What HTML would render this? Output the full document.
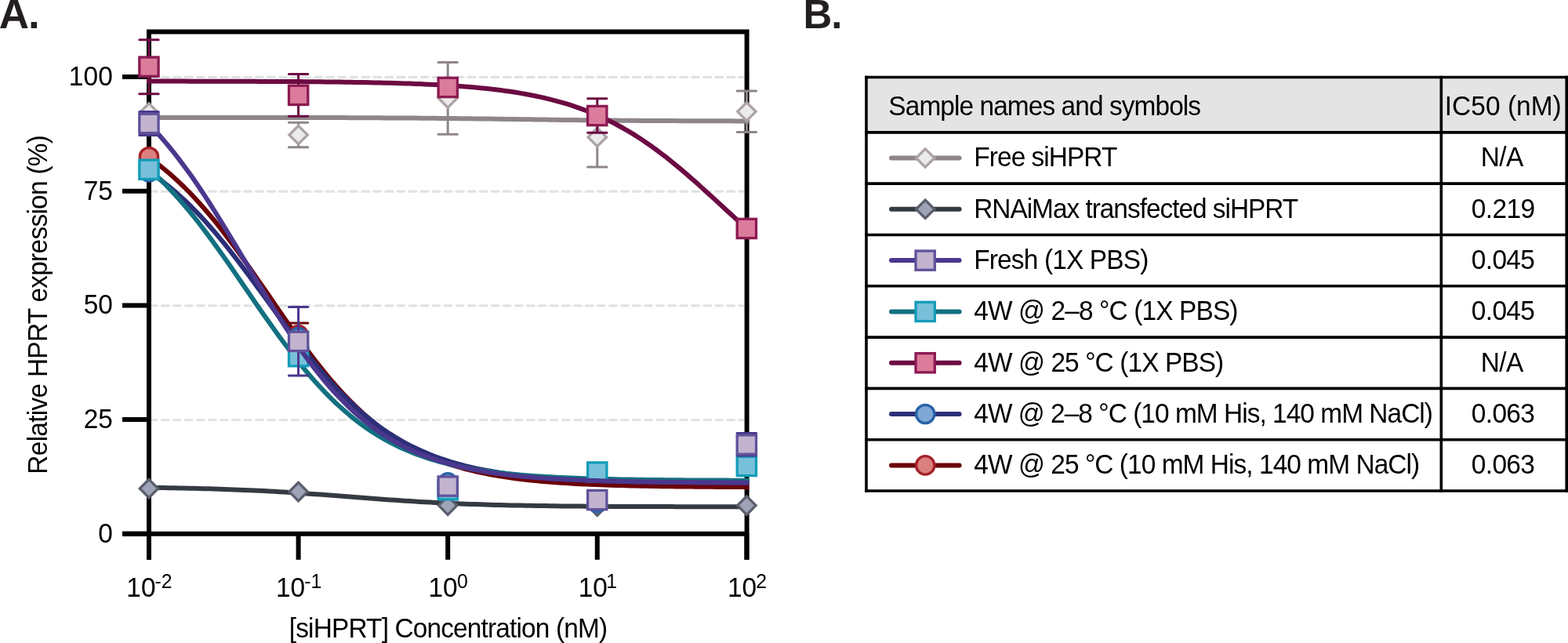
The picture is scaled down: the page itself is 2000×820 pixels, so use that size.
<!DOCTYPE html>
<html><head><meta charset="utf-8"><style>
html,body{margin:0;padding:0;background:#fff;width:2000px;height:820px;overflow:hidden}
svg{display:block}
</style></head><body>
<svg width="2000" height="820" viewBox="0 0 2000 820">
<line x1="191.4" y1="535.48" x2="948" y2="535.48" stroke="#e2e2e2" stroke-width="3.2" stroke-linecap="round" stroke-dasharray="8.8 6.23"/>
<line x1="191.4" y1="389.80" x2="948" y2="389.80" stroke="#e2e2e2" stroke-width="3.2" stroke-linecap="round" stroke-dasharray="8.8 6.23"/>
<line x1="191.4" y1="244.13" x2="948" y2="244.13" stroke="#e2e2e2" stroke-width="3.2" stroke-linecap="round" stroke-dasharray="8.8 6.23"/>
<line x1="191.4" y1="98.45" x2="948" y2="98.45" stroke="#e2e2e2" stroke-width="3.2" stroke-linecap="round" stroke-dasharray="8.8 6.23"/>
<path d="M190 37.5V713.8M952.6 37.5V713.8M187 40.5H955.6M156 680.7H955.6" stroke="#000" stroke-width="6" fill="none"/>
<line x1="156" y1="680.7" x2="190" y2="680.7" stroke="#000" stroke-width="6"/>
<line x1="156" y1="535.0" x2="190" y2="535.0" stroke="#000" stroke-width="6"/>
<line x1="156" y1="389.4" x2="190" y2="389.4" stroke="#000" stroke-width="6"/>
<line x1="156" y1="243.7" x2="190" y2="243.7" stroke="#000" stroke-width="6"/>
<line x1="156" y1="98.0" x2="190" y2="98.0" stroke="#000" stroke-width="6"/>
<line x1="190.0" y1="680" x2="190.0" y2="713.8" stroke="#000" stroke-width="6"/>
<line x1="380.6" y1="680" x2="380.6" y2="713.8" stroke="#000" stroke-width="6"/>
<line x1="571.2" y1="680" x2="571.2" y2="713.8" stroke="#000" stroke-width="6"/>
<line x1="761.8" y1="680" x2="761.8" y2="713.8" stroke="#000" stroke-width="6"/>
<line x1="952.4" y1="680" x2="952.4" y2="713.8" stroke="#000" stroke-width="6"/>
<polyline points="190.0,149.9 196.4,149.9 202.8,149.9 209.2,149.9 215.6,149.9 222.0,149.9 228.4,149.9 234.8,149.9 241.3,149.9 247.7,149.9 254.1,149.9 260.5,149.9 266.9,149.9 273.3,149.9 279.7,149.9 286.1,149.9 292.5,149.9 298.9,149.9 305.3,149.9 311.7,149.9 318.1,149.9 324.5,149.9 330.9,149.9 337.4,149.9 343.8,150.0 350.2,150.0 356.6,150.0 363.0,150.0 369.4,150.0 375.8,150.0 382.2,150.0 388.6,150.0 395.0,150.0 401.4,150.0 407.8,150.1 414.2,150.1 420.6,150.1 427.0,150.1 433.5,150.1 439.9,150.1 446.3,150.2 452.7,150.2 459.1,150.2 465.5,150.2 471.9,150.3 478.3,150.3 484.7,150.3 491.1,150.4 497.5,150.4 503.9,150.4 510.3,150.5 516.7,150.5 523.1,150.6 529.6,150.6 536.0,150.7 542.4,150.7 548.8,150.8 555.2,150.8 561.6,150.9 568.0,150.9 574.4,151.0 580.8,151.1 587.2,151.2 593.6,151.2 600.0,151.3 606.4,151.4 612.8,151.5 619.3,151.5 625.7,151.6 632.1,151.7 638.5,151.8 644.9,151.9 651.3,152.0 657.7,152.1 664.1,152.2 670.5,152.2 676.9,152.3 683.3,152.4 689.7,152.5 696.1,152.6 702.5,152.7 708.9,152.8 715.4,152.9 721.8,152.9 728.2,153.0 734.6,153.1 741.0,153.2 747.4,153.2 753.8,153.3 760.2,153.4 766.6,153.5 773.0,153.5 779.4,153.6 785.8,153.6 792.2,153.7 798.6,153.7 805.0,153.8 811.5,153.8 817.9,153.9 824.3,153.9 830.7,154.0 837.1,154.0 843.5,154.0 849.9,154.1 856.3,154.1 862.7,154.1 869.1,154.2 875.5,154.2 881.9,154.2 888.3,154.2 894.7,154.2 901.1,154.3 907.6,154.3 914.0,154.3 920.4,154.3 926.8,154.3 933.2,154.3 939.6,154.4 946.0,154.4 952.4,154.4" fill="none" stroke="#8e868b" stroke-width="6" stroke-linejoin="round" stroke-linecap="square"/>
<path d="M190.0 131.8L201.7 143.5L190.0 155.2L178.3 143.5Z" fill="#ebebeb" stroke="#aca3a7" stroke-width="3.3"/>
<path d="M380.6 156.3V187.8M368.4 156.3H392.8M368.4 187.8H392.8" stroke="#8e868b" stroke-width="3" stroke-linecap="round" fill="none"/>
<path d="M380.6 160.3L392.3 172.0L380.6 183.7L368.9 172.0Z" fill="#ebebeb" stroke="#aca3a7" stroke-width="3.3"/>
<path d="M571.2 79.5V171.3M559.0 79.5H583.4M559.0 171.3H583.4" stroke="#8e868b" stroke-width="3" stroke-linecap="round" fill="none"/>
<path d="M571.2 113.7L582.9 125.4L571.2 137.1L559.5 125.4Z" fill="#ebebeb" stroke="#aca3a7" stroke-width="3.3"/>
<path d="M761.8 136.9V212.9M749.6 136.9H774.0M749.6 212.9H774.0" stroke="#8e868b" stroke-width="3" stroke-linecap="round" fill="none"/>
<path d="M761.8 163.2L773.5 174.9L761.8 186.6L750.1 174.9Z" fill="#ebebeb" stroke="#aca3a7" stroke-width="3.3"/>
<path d="M952.4 115.9V168.6M940.2 115.9H964.6M940.2 168.6H964.6" stroke="#8e868b" stroke-width="3" stroke-linecap="round" fill="none"/>
<path d="M952.4 130.6L964.1 142.3L952.4 154.0L940.7 142.3Z" fill="#ebebeb" stroke="#aca3a7" stroke-width="3.3"/>
<polyline points="190.0,621.8 196.4,621.9 202.8,622.0 209.2,622.1 215.6,622.2 222.0,622.3 228.4,622.4 234.8,622.5 241.3,622.7 247.7,622.8 254.1,623.0 260.5,623.2 266.9,623.3 273.3,623.5 279.7,623.7 286.1,623.9 292.5,624.2 298.9,624.4 305.3,624.7 311.7,624.9 318.1,625.2 324.5,625.5 330.9,625.8 337.4,626.1 343.8,626.5 350.2,626.8 356.6,627.2 363.0,627.6 369.4,628.0 375.8,628.4 382.2,628.8 388.6,629.3 395.0,629.7 401.4,630.2 407.8,630.6 414.2,631.1 420.6,631.6 427.0,632.1 433.5,632.6 439.9,633.1 446.3,633.6 452.7,634.1 459.1,634.6 465.5,635.0 471.9,635.5 478.3,636.0 484.7,636.5 491.1,636.9 497.5,637.4 503.9,637.8 510.3,638.3 516.7,638.7 523.1,639.1 529.6,639.5 536.0,639.9 542.4,640.2 548.8,640.6 555.2,640.9 561.6,641.3 568.0,641.6 574.4,641.9 580.8,642.1 587.2,642.4 593.6,642.7 600.0,642.9 606.4,643.1 612.8,643.3 619.3,643.5 625.7,643.7 632.1,643.9 638.5,644.1 644.9,644.2 651.3,644.4 657.7,644.5 664.1,644.6 670.5,644.7 676.9,644.8 683.3,644.9 689.7,645.0 696.1,645.1 702.5,645.2 708.9,645.3 715.4,645.4 721.8,645.4 728.2,645.5 734.6,645.6 741.0,645.6 747.4,645.7 753.8,645.7 760.2,645.8 766.6,645.8 773.0,645.8 779.4,645.9 785.8,645.9 792.2,645.9 798.6,646.0 805.0,646.0 811.5,646.0 817.9,646.0 824.3,646.1 830.7,646.1 837.1,646.1 843.5,646.1 849.9,646.1 856.3,646.1 862.7,646.2 869.1,646.2 875.5,646.2 881.9,646.2 888.3,646.2 894.7,646.2 901.1,646.2 907.6,646.2 914.0,646.2 920.4,646.2 926.8,646.2 933.2,646.3 939.6,646.3 946.0,646.3 952.4,646.3" fill="none" stroke="#353a42" stroke-width="6" stroke-linejoin="round" stroke-linecap="square"/>
<path d="M190.0 611.3L201.7 623.0L190.0 634.7L178.3 623.0Z" fill="#9ea3b8" stroke="#5b5e6b" stroke-width="3.3"/>
<path d="M380.6 615.4L392.3 627.1L380.6 638.8L368.9 627.1Z" fill="#9ea3b8" stroke="#5b5e6b" stroke-width="3.3"/>
<path d="M571.2 632.9L582.9 644.6L571.2 656.3L559.5 644.6Z" fill="#9ea3b8" stroke="#5b5e6b" stroke-width="3.3"/>
<path d="M761.8 634.0L773.5 645.7L761.8 657.4L750.1 645.7Z" fill="#9ea3b8" stroke="#5b5e6b" stroke-width="3.3"/>
<path d="M952.4 632.9L964.1 644.6L952.4 656.3L940.7 644.6Z" fill="#9ea3b8" stroke="#5b5e6b" stroke-width="3.3"/>
<polyline points="190.0,201.0 196.4,205.6 202.8,210.4 209.2,215.5 215.6,220.8 222.0,226.5 228.4,232.4 234.8,238.5 241.3,245.0 247.7,251.7 254.1,258.7 260.5,266.0 266.9,273.5 273.3,281.2 279.7,289.2 286.1,297.5 292.5,305.9 298.9,314.5 305.3,323.3 311.7,332.2 318.1,341.3 324.5,350.5 330.9,359.7 337.4,369.0 343.8,378.3 350.2,387.6 356.6,396.9 363.0,406.2 369.4,415.3 375.8,424.3 382.2,433.3 388.6,442.0 395.0,450.6 401.4,459.0 407.8,467.1 414.2,475.1 420.6,482.8 427.0,490.2 433.5,497.4 439.9,504.4 446.3,511.0 452.7,517.4 459.1,523.5 465.5,529.4 471.9,534.9 478.3,540.2 484.7,545.3 491.1,550.1 497.5,554.6 503.9,558.9 510.3,562.9 516.7,566.7 523.1,570.3 529.6,573.7 536.0,576.9 542.4,579.9 548.8,582.7 555.2,585.4 561.6,587.8 568.0,590.1 574.4,592.3 580.8,594.3 587.2,596.2 593.6,598.0 600.0,599.6 606.4,601.2 612.8,602.6 619.3,603.9 625.7,605.2 632.1,606.3 638.5,607.4 644.9,608.4 651.3,609.3 657.7,610.2 664.1,611.0 670.5,611.8 676.9,612.5 683.3,613.1 689.7,613.7 696.1,614.3 702.5,614.8 708.9,615.3 715.4,615.7 721.8,616.1 728.2,616.5 734.6,616.9 741.0,617.2 747.4,617.5 753.8,617.8 760.2,618.0 766.6,618.3 773.0,618.5 779.4,618.7 785.8,618.9 792.2,619.1 798.6,619.3 805.0,619.4 811.5,619.6 817.9,619.7 824.3,619.8 830.7,619.9 837.1,620.1 843.5,620.2 849.9,620.2 856.3,620.3 862.7,620.4 869.1,620.5 875.5,620.5 881.9,620.6 888.3,620.7 894.7,620.7 901.1,620.8 907.6,620.8 914.0,620.9 920.4,620.9 926.8,620.9 933.2,621.0 939.6,621.0 946.0,621.0 952.4,621.1" fill="none" stroke="#6b0308" stroke-width="6" stroke-linejoin="round" stroke-linecap="square"/>
<circle cx="190.0" cy="200.0" r="11.7" fill="#dc7f7f" stroke="#a52028" stroke-width="3.3"/>
<path d="M380.6 412.1V442.3M368.4 412.1H392.8M368.4 442.3H392.8" stroke="#6a0a0c" stroke-width="3" stroke-linecap="round" fill="none"/>
<circle cx="380.6" cy="427.2" r="11.7" fill="#dc7f7f" stroke="#a52028" stroke-width="3.3"/>
<circle cx="571.2" cy="620.1" r="11.7" fill="#dc7f7f" stroke="#a52028" stroke-width="3.3"/>
<circle cx="761.8" cy="637.6" r="11.7" fill="#dc7f7f" stroke="#a52028" stroke-width="3.3"/>
<circle cx="952.4" cy="581.6" r="11.7" fill="#dc7f7f" stroke="#a52028" stroke-width="3.3"/>
<polyline points="190.0,218.9 196.4,223.3 202.8,227.9 209.2,232.8 215.6,237.9 222.0,243.2 228.4,248.9 234.8,254.7 241.3,260.9 247.7,267.3 254.1,273.9 260.5,280.8 266.9,288.0 273.3,295.3 279.7,302.9 286.1,310.7 292.5,318.7 298.9,326.9 305.3,335.2 311.7,343.7 318.1,352.3 324.5,361.0 330.9,369.7 337.4,378.5 343.8,387.3 350.2,396.2 356.6,404.9 363.0,413.6 369.4,422.3 375.8,430.8 382.2,439.2 388.6,447.5 395.0,455.5 401.4,463.4 407.8,471.1 414.2,478.6 420.6,485.9 427.0,492.9 433.5,499.7 439.9,506.2 446.3,512.5 452.7,518.5 459.1,524.2 465.5,529.7 471.9,534.9 478.3,539.9 484.7,544.6 491.1,549.1 497.5,553.4 503.9,557.4 510.3,561.2 516.7,564.8 523.1,568.2 529.6,571.3 536.0,574.3 542.4,577.1 548.8,579.8 555.2,582.3 561.6,584.6 568.0,586.7 574.4,588.8 580.8,590.7 587.2,592.4 593.6,594.1 600.0,595.6 606.4,597.1 612.8,598.4 619.3,599.7 625.7,600.8 632.1,601.9 638.5,602.9 644.9,603.9 651.3,604.7 657.7,605.6 664.1,606.3 670.5,607.0 676.9,607.7 683.3,608.3 689.7,608.8 696.1,609.4 702.5,609.9 708.9,610.3 715.4,610.7 721.8,611.1 728.2,611.5 734.6,611.8 741.0,612.1 747.4,612.4 753.8,612.7 760.2,612.9 766.6,613.2 773.0,613.4 779.4,613.6 785.8,613.8 792.2,613.9 798.6,614.1 805.0,614.2 811.5,614.4 817.9,614.5 824.3,614.6 830.7,614.7 837.1,614.8 843.5,614.9 849.9,615.0 856.3,615.1 862.7,615.1 869.1,615.2 875.5,615.3 881.9,615.3 888.3,615.4 894.7,615.4 901.1,615.5 907.6,615.5 914.0,615.6 920.4,615.6 926.8,615.6 933.2,615.7 939.6,615.7 946.0,615.7 952.4,615.8" fill="none" stroke="#2c2f78" stroke-width="6" stroke-linejoin="round" stroke-linecap="square"/>
<circle cx="190.0" cy="219.2" r="11.7" fill="#7ea7d6" stroke="#2a62a6" stroke-width="3.3"/>
<circle cx="380.6" cy="430.1" r="11.7" fill="#7ea7d6" stroke="#2a62a6" stroke-width="3.3"/>
<circle cx="571.2" cy="615.4" r="11.7" fill="#7ea7d6" stroke="#2a62a6" stroke-width="3.3"/>
<circle cx="761.8" cy="641.1" r="11.7" fill="#7ea7d6" stroke="#2a62a6" stroke-width="3.3"/>
<path d="M952.4 552.6V580.4M940.2 552.6H964.6M940.2 580.4H964.6" stroke="#2c2f78" stroke-width="3" stroke-linecap="round" fill="none"/>
<circle cx="952.4" cy="566.5" r="11.7" fill="#7ea7d6" stroke="#2a62a6" stroke-width="3.3"/>
<polyline points="190.0,103.6 196.4,103.6 202.8,103.6 209.2,103.6 215.6,103.6 222.0,103.6 228.4,103.6 234.8,103.6 241.3,103.7 247.7,103.7 254.1,103.7 260.5,103.7 266.9,103.7 273.3,103.7 279.7,103.7 286.1,103.7 292.5,103.7 298.9,103.8 305.3,103.8 311.7,103.8 318.1,103.8 324.5,103.8 330.9,103.9 337.4,103.9 343.8,103.9 350.2,104.0 356.6,104.0 363.0,104.0 369.4,104.1 375.8,104.1 382.2,104.1 388.6,104.2 395.0,104.2 401.4,104.3 407.8,104.3 414.2,104.4 420.6,104.5 427.0,104.6 433.5,104.6 439.9,104.7 446.3,104.8 452.7,104.9 459.1,105.0 465.5,105.1 471.9,105.2 478.3,105.4 484.7,105.5 491.1,105.7 497.5,105.8 503.9,106.0 510.3,106.2 516.7,106.4 523.1,106.6 529.6,106.9 536.0,107.1 542.4,107.4 548.8,107.7 555.2,108.0 561.6,108.3 568.0,108.7 574.4,109.1 580.8,109.5 587.2,110.0 593.6,110.5 600.0,111.0 606.4,111.6 612.8,112.2 619.3,112.8 625.7,113.5 632.1,114.3 638.5,115.1 644.9,115.9 651.3,116.8 657.7,117.8 664.1,118.9 670.5,120.0 676.9,121.2 683.3,122.5 689.7,123.9 696.1,125.3 702.5,126.9 708.9,128.6 715.4,130.3 721.8,132.2 728.2,134.2 734.6,136.4 741.0,138.6 747.4,141.0 753.8,143.6 760.2,146.2 766.6,149.1 773.0,152.1 779.4,155.2 785.8,158.5 792.2,162.0 798.6,165.6 805.0,169.4 811.5,173.4 817.9,177.6 824.3,181.9 830.7,186.3 837.1,191.0 843.5,195.8 849.9,200.7 856.3,205.8 862.7,211.1 869.1,216.4 875.5,221.9 881.9,227.5 888.3,233.1 894.7,238.9 901.1,244.7 907.6,250.5 914.0,256.4 920.4,262.3 926.8,268.2 933.2,274.0 939.6,279.9 946.0,285.7 952.4,291.4" fill="none" stroke="#6c0b43" stroke-width="6" stroke-linejoin="round" stroke-linecap="square"/>
<path d="M190.0 50.7V119.7M177.8 50.7H202.2M177.8 119.7H202.2" stroke="#6c0b43" stroke-width="3" stroke-linecap="round" fill="none"/>
<rect x="177.8" y="73.0" width="24.3" height="24.3" fill="#db7c9d" stroke="#8c1a52" stroke-width="3.3"/>
<path d="M380.6 94.4V148.2M368.4 94.4H392.8M368.4 148.2H392.8" stroke="#6c0b43" stroke-width="3" stroke-linecap="round" fill="none"/>
<rect x="368.5" y="109.2" width="24.3" height="24.3" fill="#db7c9d" stroke="#8c1a52" stroke-width="3.3"/>
<rect x="559.1" y="99.3" width="24.3" height="24.3" fill="#db7c9d" stroke="#8c1a52" stroke-width="3.3"/>
<path d="M761.8 125.8V169.3M749.6 125.8H774.0M749.6 169.3H774.0" stroke="#6c0b43" stroke-width="3" stroke-linecap="round" fill="none"/>
<rect x="749.6" y="135.4" width="24.3" height="24.3" fill="#db7c9d" stroke="#8c1a52" stroke-width="3.3"/>
<rect x="940.2" y="279.3" width="24.3" height="24.3" fill="#db7c9d" stroke="#8c1a52" stroke-width="3.3"/>
<polyline points="190.0,215.5 196.4,221.2 202.8,227.2 209.2,233.5 215.6,240.1 222.0,246.9 228.4,254.0 234.8,261.4 241.3,269.1 247.7,276.9 254.1,285.0 260.5,293.4 266.9,301.9 273.3,310.6 279.7,319.5 286.1,328.5 292.5,337.6 298.9,346.9 305.3,356.2 311.7,365.5 318.1,374.8 324.5,384.2 330.9,393.5 337.4,402.7 343.8,411.8 350.2,420.8 356.6,429.7 363.0,438.3 369.4,446.8 375.8,455.1 382.2,463.2 388.6,471.1 395.0,478.7 401.4,486.0 407.8,493.1 414.2,499.9 420.6,506.4 427.0,512.7 433.5,518.6 439.9,524.3 446.3,529.8 452.7,534.9 459.1,539.8 465.5,544.5 471.9,548.9 478.3,553.0 484.7,556.9 491.1,560.6 497.5,564.1 503.9,567.4 510.3,570.5 516.7,573.3 523.1,576.0 529.6,578.6 536.0,581.0 542.4,583.2 548.8,585.3 555.2,587.2 561.6,589.0 568.0,590.7 574.4,592.3 580.8,593.7 587.2,595.1 593.6,596.4 600.0,597.6 606.4,598.7 612.8,599.7 619.3,600.7 625.7,601.5 632.1,602.4 638.5,603.1 644.9,603.8 651.3,604.5 657.7,605.1 664.1,605.7 670.5,606.2 676.9,606.7 683.3,607.2 689.7,607.6 696.1,608.0 702.5,608.3 708.9,608.7 715.4,609.0 721.8,609.3 728.2,609.6 734.6,609.8 741.0,610.0 747.4,610.3 753.8,610.5 760.2,610.6 766.6,610.8 773.0,611.0 779.4,611.1 785.8,611.2 792.2,611.4 798.6,611.5 805.0,611.6 811.5,611.7 817.9,611.8 824.3,611.9 830.7,612.0 837.1,612.0 843.5,612.1 849.9,612.2 856.3,612.2 862.7,612.3 869.1,612.3 875.5,612.4 881.9,612.4 888.3,612.5 894.7,612.5 901.1,612.5 907.6,612.6 914.0,612.6 920.4,612.6 926.8,612.6 933.2,612.7 939.6,612.7 946.0,612.7 952.4,612.7" fill="none" stroke="#137080" stroke-width="6" stroke-linejoin="round" stroke-linecap="square"/>
<rect x="177.8" y="204.1" width="24.3" height="24.3" fill="#78c0da" stroke="#139cb8" stroke-width="3.3"/>
<rect x="368.5" y="442.5" width="24.3" height="24.3" fill="#78c0da" stroke="#139cb8" stroke-width="3.3"/>
<rect x="559.1" y="612.6" width="24.3" height="24.3" fill="#78c0da" stroke="#139cb8" stroke-width="3.3"/>
<rect x="749.6" y="589.9" width="24.3" height="24.3" fill="#78c0da" stroke="#139cb8" stroke-width="3.3"/>
<rect x="940.2" y="582.3" width="24.3" height="24.3" fill="#78c0da" stroke="#139cb8" stroke-width="3.3"/>
<polyline points="190.0,158.4 196.4,165.1 202.8,172.0 209.2,179.4 215.6,187.0 222.0,194.9 228.4,203.1 234.8,211.7 241.3,220.5 247.7,229.6 254.1,239.0 260.5,248.6 266.9,258.5 273.3,268.5 279.7,278.8 286.1,289.2 292.5,299.7 298.9,310.3 305.3,321.0 311.7,331.8 318.1,342.5 324.5,353.3 330.9,363.9 337.4,374.5 343.8,385.0 350.2,395.3 356.6,405.5 363.0,415.5 369.4,425.2 375.8,434.7 382.2,444.0 388.6,453.0 395.0,461.7 401.4,470.1 407.8,478.2 414.2,486.0 420.6,493.5 427.0,500.7 433.5,507.5 439.9,514.0 446.3,520.3 452.7,526.2 459.1,531.8 465.5,537.1 471.9,542.1 478.3,546.9 484.7,551.4 491.1,555.6 497.5,559.6 503.9,563.4 510.3,566.9 516.7,570.2 523.1,573.3 529.6,576.2 536.0,578.9 542.4,581.5 548.8,583.8 555.2,586.1 561.6,588.2 568.0,590.1 574.4,591.9 580.8,593.6 587.2,595.2 593.6,596.6 600.0,598.0 606.4,599.3 612.8,600.4 619.3,601.5 625.7,602.6 632.1,603.5 638.5,604.4 644.9,605.2 651.3,606.0 657.7,606.7 664.1,607.3 670.5,607.9 676.9,608.5 683.3,609.0 689.7,609.5 696.1,610.0 702.5,610.4 708.9,610.8 715.4,611.1 721.8,611.5 728.2,611.8 734.6,612.1 741.0,612.3 747.4,612.6 753.8,612.8 760.2,613.0 766.6,613.2 773.0,613.4 779.4,613.6 785.8,613.7 792.2,613.9 798.6,614.0 805.0,614.2 811.5,614.3 817.9,614.4 824.3,614.5 830.7,614.6 837.1,614.7 843.5,614.7 849.9,614.8 856.3,614.9 862.7,614.9 869.1,615.0 875.5,615.0 881.9,615.1 888.3,615.1 894.7,615.2 901.1,615.2 907.6,615.3 914.0,615.3 920.4,615.3 926.8,615.4 933.2,615.4 939.6,615.4 946.0,615.4 952.4,615.5" fill="none" stroke="#4b378d" stroke-width="6" stroke-linejoin="round" stroke-linecap="square"/>
<path d="M190.0 142.4V172.4M177.8 142.4H202.2M177.8 172.4H202.2" stroke="#4b378d" stroke-width="3" stroke-linecap="round" fill="none"/>
<rect x="177.8" y="145.3" width="24.3" height="24.3" fill="#c2b4cf" stroke="#5f529a" stroke-width="3.3"/>
<path d="M380.6 391.6V479.1M368.4 391.6H392.8M368.4 479.1H392.8" stroke="#4b378d" stroke-width="3" stroke-linecap="round" fill="none"/>
<rect x="368.5" y="423.2" width="24.3" height="24.3" fill="#c2b4cf" stroke="#5f529a" stroke-width="3.3"/>
<rect x="559.1" y="607.9" width="24.3" height="24.3" fill="#c2b4cf" stroke="#5f529a" stroke-width="3.3"/>
<rect x="749.6" y="625.4" width="24.3" height="24.3" fill="#c2b4cf" stroke="#5f529a" stroke-width="3.3"/>
<path d="M952.4 553.1V581.1M940.2 553.1H964.6M940.2 581.1H964.6" stroke="#4b378d" stroke-width="3" stroke-linecap="round" fill="none"/>
<rect x="940.2" y="554.9" width="24.3" height="24.3" fill="#c2b4cf" stroke="#5f529a" stroke-width="3.3"/>
<text transform="translate(125.31,691.70) scale(0.955,1)" font-size="35" letter-spacing="0.000" font-family="Liberation Sans, Arial, Helvetica, sans-serif" >0</text>
<text transform="translate(106.69,546.03) scale(0.955,1)" font-size="35" letter-spacing="0.000" font-family="Liberation Sans, Arial, Helvetica, sans-serif" >25</text>
<text transform="translate(106.69,400.35) scale(0.955,1)" font-size="35" letter-spacing="0.000" font-family="Liberation Sans, Arial, Helvetica, sans-serif" >50</text>
<text transform="translate(106.69,254.68) scale(0.955,1)" font-size="35" letter-spacing="0.000" font-family="Liberation Sans, Arial, Helvetica, sans-serif" >75</text>
<text transform="translate(87.87,109.00) scale(0.955,1)" font-size="35" letter-spacing="0.100" font-family="Liberation Sans, Arial, Helvetica, sans-serif" >100</text>
<text transform="translate(161.37,760.70) scale(0.955,1)" font-size="35" letter-spacing="0.000" font-family="Liberation Sans, Arial, Helvetica, sans-serif" >10</text>
<text transform="translate(197.59,749.90) scale(0.955,1)" font-size="26" letter-spacing="-0.000" font-family="Liberation Sans, Arial, Helvetica, sans-serif" >-2</text>
<text transform="translate(351.97,760.70) scale(0.955,1)" font-size="35" letter-spacing="0.000" font-family="Liberation Sans, Arial, Helvetica, sans-serif" >10</text>
<text transform="translate(388.19,749.90) scale(0.955,1)" font-size="26" letter-spacing="-0.000" font-family="Liberation Sans, Arial, Helvetica, sans-serif" >-1</text>
<text transform="translate(546.51,760.70) scale(0.955,1)" font-size="35" letter-spacing="-0.000" font-family="Liberation Sans, Arial, Helvetica, sans-serif" >10</text>
<text transform="translate(582.97,749.90) scale(0.955,1)" font-size="26" letter-spacing="0.000" font-family="Liberation Sans, Arial, Helvetica, sans-serif" >0</text>
<text transform="translate(737.71,760.70) scale(0.955,1)" font-size="35" letter-spacing="-0.000" font-family="Liberation Sans, Arial, Helvetica, sans-serif" >10</text>
<text transform="translate(773.21,749.90) scale(0.955,1)" font-size="26" letter-spacing="0.000" font-family="Liberation Sans, Arial, Helvetica, sans-serif" >1</text>
<text transform="translate(927.95,760.70) scale(0.955,1)" font-size="35" letter-spacing="-0.000" font-family="Liberation Sans, Arial, Helvetica, sans-serif" >10</text>
<text transform="translate(964.17,749.90) scale(0.955,1)" font-size="26" letter-spacing="0.000" font-family="Liberation Sans, Arial, Helvetica, sans-serif" >2</text>
<text transform="translate(368.81,813.00) scale(0.955,1)" font-size="35" letter-spacing="-0.895" font-family="Liberation Sans, Arial, Helvetica, sans-serif" >[siHPRT] Concentration (nM)</text>
<text transform="translate(60.00,604.63) rotate(-90) scale(0.955,1)" font-size="35" letter-spacing="-0.753" font-family="Liberation Sans, Arial, Helvetica, sans-serif" >Relative HPRT expression (%)</text>
<text x="-1.3" y="35.7" font-size="53" letter-spacing="-1.1" font-weight="bold" fill="#231f20" font-family="Liberation Sans, Arial, Helvetica, sans-serif">A.</text>
<text x="1024.5" y="35.7" font-size="51" letter-spacing="-1.2" font-weight="bold" fill="#231f20" font-family="Liberation Sans, Arial, Helvetica, sans-serif">B.</text>
<rect x="1105" y="98.5" width="893.2" height="70.4" fill="#e4e4e4"/>
<line x1="1103.2" y1="98.5" x2="2000.0" y2="98.5" stroke="#000" stroke-width="3.6"/>
<line x1="1103.2" y1="168.9" x2="2000.0" y2="168.9" stroke="#000" stroke-width="3.6"/>
<line x1="1103.2" y1="234.1" x2="2000.0" y2="234.1" stroke="#000" stroke-width="3.6"/>
<line x1="1103.2" y1="299.5" x2="2000.0" y2="299.5" stroke="#000" stroke-width="3.6"/>
<line x1="1103.2" y1="364.8" x2="2000.0" y2="364.8" stroke="#000" stroke-width="3.6"/>
<line x1="1103.2" y1="430.1" x2="2000.0" y2="430.1" stroke="#000" stroke-width="3.6"/>
<line x1="1103.2" y1="495.4" x2="2000.0" y2="495.4" stroke="#000" stroke-width="3.6"/>
<line x1="1103.2" y1="560.7" x2="2000.0" y2="560.7" stroke="#000" stroke-width="3.6"/>
<line x1="1103.2" y1="626" x2="2000.0" y2="626" stroke="#000" stroke-width="3.6"/>
<line x1="1105" y1="96.7" x2="1105" y2="627.8" stroke="#000" stroke-width="3.6"/>
<line x1="1838.3" y1="96.7" x2="1838.3" y2="627.8" stroke="#000" stroke-width="3.6"/>
<line x1="1998.2" y1="96.7" x2="1998.2" y2="627.8" stroke="#000" stroke-width="3.6"/>
<text transform="translate(1133.33,146.80) scale(0.955,1)" font-size="35" letter-spacing="-0.960" font-family="Liberation Sans, Arial, Helvetica, sans-serif" >Sample names and symbols</text>
<text transform="translate(1842.80,147.00) scale(0.955,1)" font-size="35" letter-spacing="0.041" font-family="Liberation Sans, Arial, Helvetica, sans-serif" >IC50 (nM)</text>
<line x1="1137" y1="201.5" x2="1223.6" y2="201.5" stroke="#8e868b" stroke-width="6" stroke-linecap="round"/>
<path d="M1180.2 189.8L1191.9 201.5L1180.2 213.2L1168.5 201.5Z" fill="#ebebeb" stroke="#aca3a7" stroke-width="3.3"/>
<text transform="translate(1242.37,212.30) scale(0.955,1)" font-size="35" letter-spacing="-1.004" font-family="Liberation Sans, Arial, Helvetica, sans-serif" >Free siHPRT</text>
<text transform="translate(1888.67,212.30) scale(0.955,1)" font-size="35" letter-spacing="-0.630" font-family="Liberation Sans, Arial, Helvetica, sans-serif" >N/A</text>
<line x1="1137" y1="266.8" x2="1223.6" y2="266.8" stroke="#353a42" stroke-width="6" stroke-linecap="round"/>
<path d="M1180.2 255.1L1191.9 266.8L1180.2 278.5L1168.5 266.8Z" fill="#9ea3b8" stroke="#5b5e6b" stroke-width="3.3"/>
<text transform="translate(1242.17,277.60) scale(0.955,1)" font-size="35" letter-spacing="-1.068" font-family="Liberation Sans, Arial, Helvetica, sans-serif" >RNAiMax transfected siHPRT</text>
<text transform="translate(1876.86,277.60) scale(0.955,1)" font-size="35" letter-spacing="-0.628" font-family="Liberation Sans, Arial, Helvetica, sans-serif" >0.219</text>
<line x1="1137" y1="332.1" x2="1223.6" y2="332.1" stroke="#4b378d" stroke-width="6" stroke-linecap="round"/>
<rect x="1168.0" y="320.0" width="24.3" height="24.3" fill="#c2b4cf" stroke="#5f529a" stroke-width="3.3"/>
<text transform="translate(1242.17,342.95) scale(0.955,1)" font-size="35" letter-spacing="-0.873" font-family="Liberation Sans, Arial, Helvetica, sans-serif" >Fresh (1X PBS)</text>
<text transform="translate(1876.86,342.95) scale(0.955,1)" font-size="35" letter-spacing="-0.690" font-family="Liberation Sans, Arial, Helvetica, sans-serif" >0.045</text>
<line x1="1137" y1="397.5" x2="1223.6" y2="397.5" stroke="#137080" stroke-width="6" stroke-linecap="round"/>
<rect x="1168.0" y="385.3" width="24.3" height="24.3" fill="#78c0da" stroke="#139cb8" stroke-width="3.3"/>
<text transform="translate(1242.28,408.25) scale(0.955,1)" font-size="35" letter-spacing="-0.913" font-family="Liberation Sans, Arial, Helvetica, sans-serif" >4W @ 2–8 °C (1X PBS)</text>
<text transform="translate(1876.86,408.25) scale(0.955,1)" font-size="35" letter-spacing="-0.690" font-family="Liberation Sans, Arial, Helvetica, sans-serif" >0.045</text>
<line x1="1137" y1="462.8" x2="1223.6" y2="462.8" stroke="#6c0b43" stroke-width="6" stroke-linecap="round"/>
<rect x="1168.0" y="450.6" width="24.3" height="24.3" fill="#db7c9d" stroke="#8c1a52" stroke-width="3.3"/>
<text transform="translate(1242.28,473.55) scale(0.955,1)" font-size="35" letter-spacing="-0.945" font-family="Liberation Sans, Arial, Helvetica, sans-serif" >4W @ 25 °C (1X PBS)</text>
<text transform="translate(1888.67,473.55) scale(0.955,1)" font-size="35" letter-spacing="-0.630" font-family="Liberation Sans, Arial, Helvetica, sans-serif" >N/A</text>
<line x1="1137" y1="528.0" x2="1223.6" y2="528.0" stroke="#2c2f78" stroke-width="6" stroke-linecap="round"/>
<circle cx="1180.2" cy="528.0" r="11.7" fill="#7ea7d6" stroke="#2a62a6" stroke-width="3.3"/>
<text transform="translate(1242.28,538.85) scale(0.955,1)" font-size="35" letter-spacing="-1.008" font-family="Liberation Sans, Arial, Helvetica, sans-serif" >4W @ 2–8 °C (10 mM His, 140 mM NaCl)</text>
<text transform="translate(1876.86,538.85) scale(0.955,1)" font-size="35" letter-spacing="-0.690" font-family="Liberation Sans, Arial, Helvetica, sans-serif" >0.063</text>
<line x1="1137" y1="593.4" x2="1223.6" y2="593.4" stroke="#6b0308" stroke-width="6" stroke-linecap="round"/>
<circle cx="1180.2" cy="593.4" r="11.7" fill="#dc7f7f" stroke="#a52028" stroke-width="3.3"/>
<text transform="translate(1242.28,604.15) scale(0.955,1)" font-size="35" letter-spacing="-0.981" font-family="Liberation Sans, Arial, Helvetica, sans-serif" >4W @ 25 °C (10 mM His, 140 mM NaCl)</text>
<text transform="translate(1876.86,604.15) scale(0.955,1)" font-size="35" letter-spacing="-0.690" font-family="Liberation Sans, Arial, Helvetica, sans-serif" >0.063</text>
</svg>
</body></html>
